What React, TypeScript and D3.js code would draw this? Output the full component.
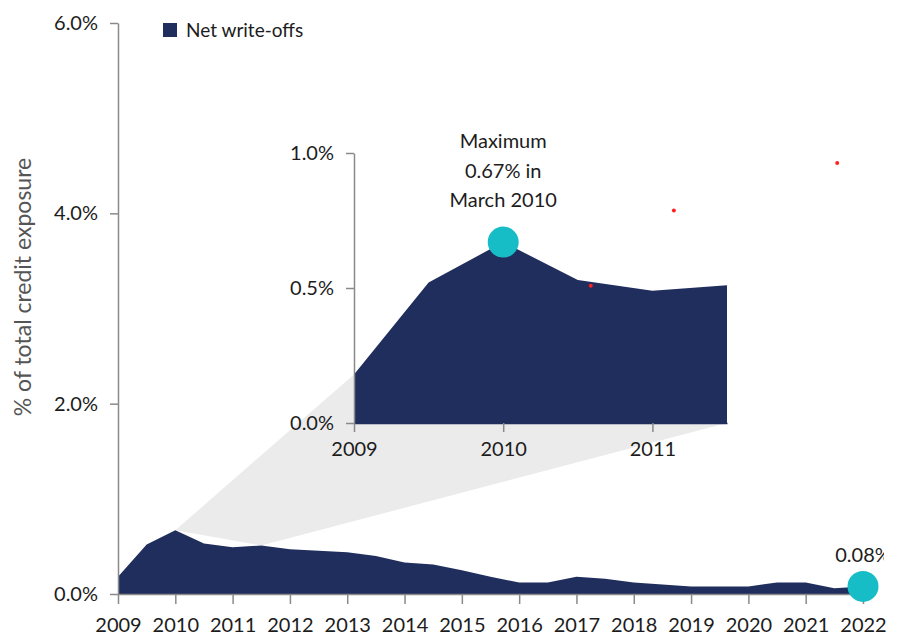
import React, { useEffect, useRef } from "react";
import * as d3 from "d3";

// Half-yearly net write-offs, % of total credit exposure
const periods = [
  2009, 2009.5, 2010, 2010.5, 2011, 2011.5, 2012, 2012.5, 2013, 2013.5,
  2014, 2014.5, 2015, 2015.5, 2016, 2016.5, 2017, 2017.5, 2018, 2018.5,
  2019, 2019.5, 2020, 2020.5, 2021, 2021.5, 2022,
];
const writeOffs = [
  0.18, 0.52, 0.67, 0.53, 0.49, 0.51, 0.47, 0.455, 0.44, 0.4,
  0.33, 0.31, 0.25, 0.18, 0.12, 0.12, 0.18, 0.16, 0.12, 0.1,
  0.08, 0.08, 0.08, 0.12, 0.12, 0.06, 0.08,
];

const yTicks = [0, 2, 4, 6];
const yearTicks = [
  2009, 2010, 2011, 2012, 2013, 2014, 2015, 2016, 2017, 2018, 2019, 2020, 2021, 2022,
];

// Zoomed panel on the first years
const insetEnd = 2011.5;
const insetYTicks = [0, 0.5, 1.0];
const insetYearTicks = [2009, 2010, 2011];

const seriesName = "Net write-offs";
const axisTitle = "% of total credit exposure";
const peakLabel = ["Maximum", "0.67% in", "March 2010"];
const latestLabel = "0.08%";

// Small red markers sitting on the chart
const markX = [2017.25, 2018.7, 2021.55];
const markY = [3.24, 4.03, 4.53];

const NAVY = "#1f2e5c";
const CYAN = "#16bcc6";
const AXIS = "#8a8a8a";
const TEXT = "#1c1c1c";
const FONT = "Lato, 'Open Sans', sans-serif";

export default function App() {
  const ref = useRef<SVGSVGElement | null>(null);

  useEffect(() => {
    const svg = d3.select(ref.current);
    svg.selectAll("*").remove();

    const data = periods.map((p, i) => ({ p, v: writeOffs[i] }));
    const insetData = data.filter((d) => d.p <= insetEnd);
    const peak = data.reduce((a, b) => (b.v > a.v ? b : a));
    const latest = data[data.length - 1];

    const x = d3.scaleLinear().domain([2009, 2022]).range([118, 863]);
    const y = d3.scaleLinear().domain([0, 6]).range([594, 23]);
    const ix = d3.scaleLinear().domain([2009, insetEnd]).range([354, 727]);
    const iy = d3.scaleLinear().domain([0, 1]).range([423, 153]);

    svg
      .append("defs")
      .append("clipPath")
      .attr("id", "plot-clip")
      .append("rect")
      .attr("x", 0)
      .attr("y", 0)
      .attr("width", 884)
      .attr("height", 636);

    // Projection wedge from the main series to the zoomed panel
    const firstI = insetData[0];
    const lastI = insetData[insetData.length - 1];
    const wedge: [number, number][] = [
      [x(peak.p), y(peak.v)],
      [ix(firstI.p), iy(firstI.v)],
      [ix(lastI.p), iy(0)],
      [x(lastI.p), y(lastI.v)],
    ];
    svg
      .append("path")
      .attr("d", "M" + wedge.map((d) => d.join(",")).join("L") + "Z")
      .attr("fill", "#ebebeb");

    // Main area
    const area = d3
      .area<{ p: number; v: number }>()
      .x((d) => x(d.p))
      .y0(y(0))
      .y1((d) => y(d.v));
    svg.append("path").datum(data).attr("d", area).attr("fill", NAVY);

    const styleAxis = (g: d3.Selection<SVGGElement, unknown, null, undefined>) => {
      g.attr("font-family", FONT).attr("font-size", 20);
      g.selectAll(".domain").attr("stroke", AXIS).attr("stroke-width", 1.5);
      g.selectAll(".tick line").attr("stroke", AXIS).attr("stroke-width", 1.5);
      g.selectAll(".tick text").attr("fill", TEXT);
    };

    // Main axes
    svg
      .append("g")
      .attr("transform", `translate(${x(2009)},0)`)
      .call(
        d3
          .axisLeft(y)
          .tickValues(yTicks)
          .tickSize(8)
          .tickSizeOuter(0)
          .tickPadding(12)
          .tickFormat((d) => (d as number).toFixed(1) + "%")
      )
      .call(styleAxis);

    svg
      .append("g")
      .attr("transform", `translate(0,${y(0)})`)
      .call(
        d3
          .axisBottom(x)
          .tickValues(yearTicks)
          .tickSize(10)
          .tickSizeOuter(0)
          .tickPadding(14)
          .tickFormat((d) => String(d))
      )
      .call(styleAxis);

    // Zoomed panel
    const insetArea = d3
      .area<{ p: number; v: number }>()
      .x((d) => ix(d.p))
      .y0(iy(0))
      .y1((d) => iy(d.v));
    svg.append("path").datum(insetData).attr("d", insetArea).attr("fill", NAVY);

    svg
      .append("g")
      .attr("transform", `translate(${ix(2009)},0)`)
      .call(
        d3
          .axisLeft(iy)
          .tickValues(insetYTicks)
          .tickSize(8)
          .tickSizeOuter(0)
          .tickPadding(12)
          .tickFormat((d) => (d as number).toFixed(1) + "%")
      )
      .call(styleAxis);

    const ixAxis = svg
      .append("g")
      .attr("transform", `translate(0,${iy(0)})`)
      .call(
        d3
          .axisBottom(ix)
          .tickValues(insetYearTicks)
          .tickSize(9)
          .tickSizeOuter(0)
          .tickPadding(10)
          .tickFormat((d) => String(d))
      )
      .call(styleAxis);
    ixAxis.select(".domain").attr("stroke", NAVY);

    // Peak marker and note
    svg
      .append("circle")
      .attr("cx", ix(peak.p))
      .attr("cy", iy(peak.v))
      .attr("r", 15.5)
      .attr("fill", CYAN);
    const note = svg
      .append("text")
      .attr("x", ix(peak.p))
      .attr("y", 148)
      .attr("text-anchor", "middle")
      .attr("font-family", FONT)
      .attr("font-size", 20)
      .attr("fill", TEXT);
    peakLabel.forEach((line, i) => {
      note
        .append("tspan")
        .attr("x", ix(peak.p))
        .attr("dy", i === 0 ? 0 : 29.5)
        .text(line);
    });

    // Latest value marker
    svg
      .append("circle")
      .attr("cx", x(latest.p))
      .attr("cy", y(latest.v))
      .attr("r", 15.5)
      .attr("fill", CYAN);
    svg
      .append("text")
      .attr("clip-path", "url(#plot-clip)")
      .attr("x", x(latest.p))
      .attr("y", 562)
      .attr("text-anchor", "middle")
      .attr("font-family", FONT)
      .attr("font-size", 20)
      .attr("fill", TEXT)
      .text(latestLabel);

    // Red markers
    svg
      .selectAll(".mark")
      .data(markX.map((mx, i) => ({ mx, my: markY[i] })))
      .join("circle")
      .attr("cx", (d) => x(d.mx))
      .attr("cy", (d) => y(d.my))
      .attr("r", 2)
      .attr("fill", "#ff2020");

    // Legend
    svg
      .append("rect")
      .attr("x", 163)
      .attr("y", 23)
      .attr("width", 14)
      .attr("height", 14)
      .attr("fill", NAVY);
    svg
      .append("text")
      .attr("x", 186)
      .attr("y", 37)
      .attr("font-family", FONT)
      .attr("font-size", 19)
      .attr("fill", TEXT)
      .text(seriesName);

    // Y axis title
    svg
      .append("text")
      .attr("transform", "translate(22,287) rotate(-90)")
      .attr("text-anchor", "middle")
      .attr("dominant-baseline", "central")
      .attr("font-family", FONT)
      .attr("font-size", 23)
      .attr("fill", "#555555")
      .text(axisTitle);
  }, []);

  return (
    <svg
      ref={ref}
      width={899}
      height={636}
      style={{ position: "absolute", left: 0, top: 0, display: "block", background: "#fff" }}
    />
  );
}
